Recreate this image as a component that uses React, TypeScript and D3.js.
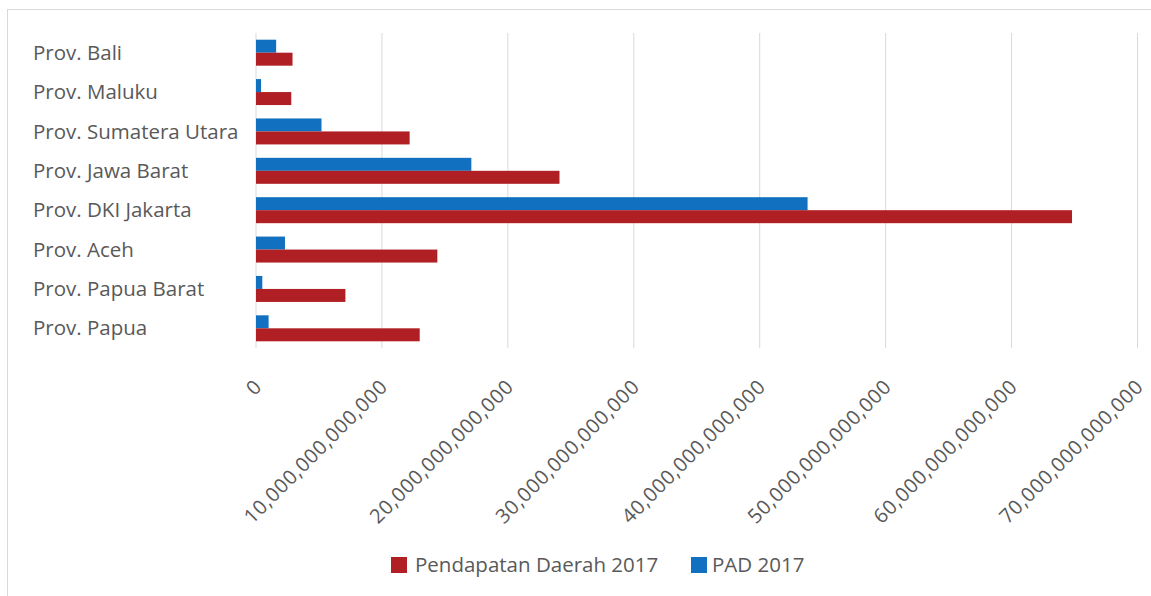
import React from "react";
import * as d3 from "d3";

const categories = [
  "Prov. Bali",
  "Prov. Maluku",
  "Prov. Sumatera Utara",
  "Prov. Jawa Barat",
  "Prov. DKI Jakarta",
  "Prov. Aceh",
  "Prov. Papua Barat",
  "Prov. Papua",
];
// values in Rupiah
const pendapatanDaerah2017 = [
  2.9e12, 2.8e12, 12.2e12, 24.1e12, 64.8e12, 14.4e12, 7.1e12, 13.0e12,
];
const pad2017 = [1.6e12, 0.4e12, 5.2e12, 17.1e12, 43.8e12, 2.3e12, 0.5e12, 1.0e12];
const tickValues = [0, 10e12, 20e12, 30e12, 40e12, 50e12, 60e12, 70e12];

const RED = "#B01F24";
const BLUE = "#1170C0";
const TEXT = "#595959";
const FONT = "'Open Sans', 'Noto Sans', sans-serif";

export default function App() {
  const W = 1151;
  const H = 596;
  const left = 256;
  const right = 1137.5;
  const top = 33;
  const bottom = 348;

  const x = d3.scaleLinear().domain([0, 70e12]).range([left, right]);
  const y = d3.scaleBand<string>().domain(categories).range([top, bottom]).paddingInner(0.34).paddingOuter(0.17);
  const sub = d3.scaleBand<string>().domain(["pad", "pd"]).range([0, y.bandwidth()]);
  const fmt = d3.format(",.0f");

  return (
    <svg
      width={W}
      height={H}
      style={{ position: "absolute", left: 0, top: 0, background: "#fff" }}
      fontFamily={FONT}
    >
      <rect x={7.5} y={9.5} width={W + 10} height={H + 10} fill="#fff" stroke="#d9d9d9" strokeWidth={1} />
      {tickValues.map((t) => (
        <line key={"g" + t} x1={x(t)} x2={x(t)} y1={top} y2={bottom} stroke="#d9d9d9" strokeWidth={1} />
      ))}
      {categories.map((c, i) => (
        <g key={c}>
          <rect
            x={x(0)}
            y={(y(c) as number) + (sub("pad") as number)}
            width={x(pad2017[i]) - x(0)}
            height={sub.bandwidth()}
            fill={BLUE}
          />
          <rect
            x={x(0)}
            y={(y(c) as number) + (sub("pd") as number)}
            width={x(pendapatanDaerah2017[i]) - x(0)}
            height={sub.bandwidth()}
            fill={RED}
          />
          <text x={33} y={(y(c) as number) + y.bandwidth() / 2} dy="0.35em" fontSize={20.5} fill={TEXT}>
            {c}
          </text>
        </g>
      ))}
      {tickValues.map((t) => (
        <text
          key={"t" + t}
          transform={`translate(${x(t) + 7},${388}) rotate(-45)`}
          textAnchor="end"
          fontSize={20}
          letterSpacing={0.7}
          fill={TEXT}
        >
          {fmt(t)}
        </text>
      ))}
      <g transform="translate(391,557)">
        <rect x={0} y={0} width={16} height={16} fill={RED} />
        <text x={24} y={8} dy="0.35em" fontSize={20.5} fill={TEXT}>
          Pendapatan Daerah 2017
        </text>
        <rect x={300} y={0} width={16} height={16} fill={BLUE} />
        <text x={321} y={8} dy="0.35em" fontSize={20.5} fill={TEXT}>
          PAD 2017
        </text>
      </g>
    </svg>
  );
}
